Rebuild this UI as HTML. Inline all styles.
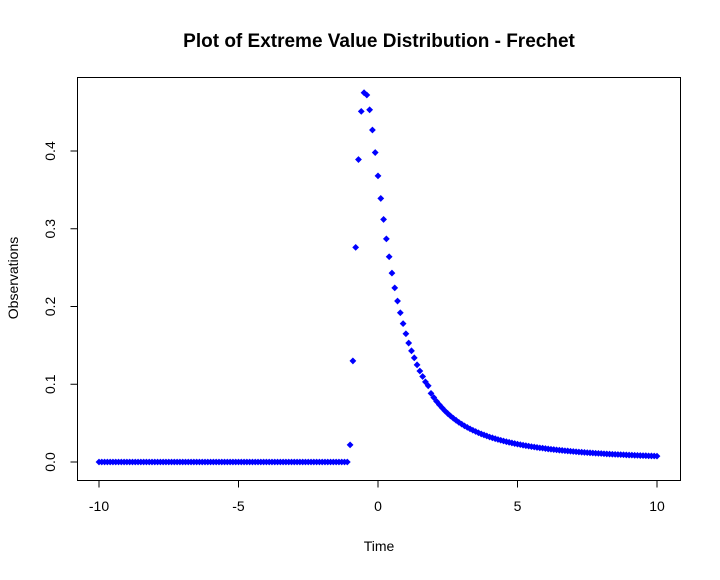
<!DOCTYPE html>
<html><head><meta charset="utf-8"><style>
body{margin:0;background:#fff}
svg text{font-family:"Liberation Sans",Arial,sans-serif;fill:#000}
</style></head><body>
<svg id="chart" width="720" height="575" viewBox="0 0 720 575" xmlns="http://www.w3.org/2000/svg">
<rect width="720" height="575" fill="#fff"/>
<text x="379" y="47" text-anchor="middle" font-size="19" font-weight="bold">Plot of Extreme Value Distribution - Frechet</text>
<rect x="77.5" y="77.5" width="603" height="403" fill="none" stroke="#000" stroke-width="1"/>
<text x="379" y="551" text-anchor="middle" font-size="14">Time</text>
<text transform="translate(18,278) rotate(-90)" text-anchor="middle" font-size="14">Observations</text>
<g id="axes"></g>
<g id="points"></g>
</svg>
<script>
const xTicks=[-10,-5,0,5,10];
const yTicks=[0,0.1,0.2,0.3,0.4];
const yTickLabels=["0.0","0.1","0.2","0.3","0.4"];
const xStart=-10, xStep=0.1;
const obsZero=new Array(90).fill(0);
const obsPeak=[0.022,0.130,0.276,0.389,0.451,0.475,0.472,0.453,0.427,0.398,0.368,0.339,0.312,0.287,0.264,0.243,0.224,0.207,0.192,0.178,0.165,0.153,0.143,0.134,0.125,0.117,0.110,0.103,0.098];
const obsTail=[0.0883,0.0829,0.0780,0.0736,0.0696,0.0658,0.0623,0.0592,0.0563,0.0536,0.0510,0.0487,0.0465,0.0445,0.0426,0.0408,0.0392,0.0376,0.0361,0.0348,0.0335,0.0322,0.0311,0.0300,0.0289,0.0280,0.0270,0.0261,0.0253,0.0245,0.0237,0.0230,0.0223,0.0216,0.0210,0.0204,0.0198,0.0193,0.0187,0.0182,0.0178,0.0173,0.0168,0.0164,0.0160,0.0156,0.0152,0.0149,0.0145,0.0142,0.0138,0.0135,0.0132,0.0129,0.0126,0.0123,0.0121,0.0118,0.0116,0.0113,0.0111,0.0109,0.0106,0.0104,0.0102,0.0100,0.0098,0.0096,0.0095,0.0093,0.0091,0.0089,0.0088,0.0086,0.0085,0.0083,0.0082,0.0081,0.0079,0.0078,0.0077,0.0076];
const observations=obsZero.concat(obsPeak,obsTail);

const NS="http://www.w3.org/2000/svg";
function sx(v){return 378+v*27.9;}
function sy(v){return 462-v*777.5;}
function mk(tag,attrs,parent){const e=document.createElementNS(NS,tag);for(const k in attrs)e.setAttribute(k,attrs[k]);parent.appendChild(e);return e;}
const axes=document.getElementById('axes');
let xl=mk('line',{x1:sx(xTicks[0]),x2:sx(xTicks[xTicks.length-1]),y1:480.5,y2:480.5,stroke:'#000'},axes);


xTicks.forEach(t=>{
  const l=mk('line',{x1:sx(t),x2:sx(t),y1:480.5,y2:487.5,stroke:'#000'},axes);
  
  
  const tx=mk('text',{x:sx(t),y:511,'text-anchor':'middle','font-size':14},axes);
  tx.textContent=String(t);
  
  
});
let yl=mk('line',{x1:77.5,x2:77.5,y1:sy(yTicks[0]),y2:sy(yTicks[yTicks.length-1]),stroke:'#000'},axes);


yTicks.forEach((t,i)=>{
  const y=sy(t);
  const l=mk('line',{x1:70.5,x2:77.5,y1:y,y2:y,stroke:'#000'},axes);
  
  
  const tx=mk('text',{transform:`translate(55,${y}) rotate(-90)`,'text-anchor':'middle','font-size':14},axes);
  tx.textContent=yTickLabels[i];
  
  
});
const pts=document.getElementById('points');
observations.forEach((v,i)=>{
  const x=sx(xStart+i*xStep), y=sy(v), r=3.4;
  const p=mk('polygon',{points:`${x},${y-r} ${x+r},${y} ${x},${y+r} ${x-r},${y}`,fill:'#0000ff'},pts);
  
  
});
</script>
</body></html>
